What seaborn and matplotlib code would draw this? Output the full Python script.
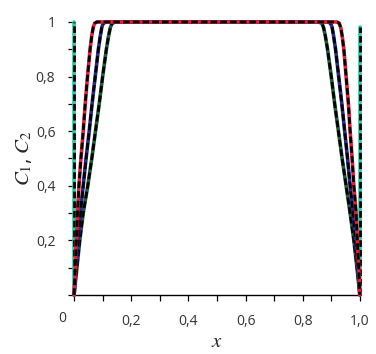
import numpy as np
import pandas as pd
import seaborn as sns
import matplotlib.pyplot as plt
from matplotlib.ticker import MultipleLocator, FixedLocator, FixedFormatter

# profiles: y levels and x positions on the rising (left) side
y_rise = [0, 0.1, 0.2, 0.3, 0.4, 0.5, 0.6, 0.7, 0.8, 0.9, 0.95, 0.98, 0.995, 1.0]
x_red = [0, 0.004, 0.008, 0.012, 0.017, 0.024, 0.032, 0.039, 0.047, 0.056, 0.062, 0.067, 0.072, 0.080]
x_blue = [0, 0.007, 0.014, 0.022, 0.032, 0.042, 0.053, 0.063, 0.074, 0.085, 0.092, 0.097, 0.102, 0.112]
x_green = [0, 0.010, 0.020, 0.032, 0.048, 0.062, 0.075, 0.088, 0.100, 0.113, 0.121, 0.127, 0.133, 0.145]

# falling (right) side, read from x = 1 going back
xr_red = [1.0, 0.996, 0.991, 0.987, 0.979, 0.973, 0.966, 0.960, 0.952, 0.944, 0.938, 0.933, 0.928, 0.920]
xr_blue = [1.0, 0.993, 0.985, 0.976, 0.966, 0.957, 0.947, 0.937, 0.926, 0.915, 0.908, 0.903, 0.898, 0.888]
xr_green = [1.0, 0.990, 0.979, 0.966, 0.952, 0.938, 0.925, 0.912, 0.900, 0.887, 0.879, 0.873, 0.867, 0.855]

# steepest profile: only the walls at x = 0 and x = 1 are visible
x_cyan_left = [0.0, 0.0]
y_cyan_left = [0.0, 1.0]
x_cyan_right = [1.0, 1.0]
y_cyan_right = [0.0, 0.98]

colors = {"cyan": "#2fc6a4", "green": "#1f5a3a", "blue": "#2a2a8c", "red": "#e0203a"}

rows = []
def add(name, part, xs, ys):
    for i, (a, b) in enumerate(zip(xs, ys)):
        rows.append({"curve": name, "part": part, "order": i, "x": a, "C": b})

add("cyan", 0, x_cyan_left, y_cyan_left)
add("cyan", 1, x_cyan_right, y_cyan_right)
for name, xl, xr in [("green", x_green, xr_green), ("blue", x_blue, xr_blue), ("red", x_red, xr_red)]:
    add(name, 0, list(xl) + list(xr[::-1]), list(y_rise) + list(y_rise[::-1]))
df = pd.DataFrame(rows)

sns.set_style("ticks")
plt.rcParams["mathtext.fontset"] = "stix"
plt.rcParams["font.family"] = ["Open Sans", "DejaVu Sans"]

fig = plt.figure(figsize=(3.76, 3.54), dpi=100)
ax = fig.add_axes([0.197, 0.167, 0.760, 0.771])

for (name, part), sub in df.groupby(["curve", "part"], sort=False):
    sns.lineplot(data=sub, x="x", y="C", sort=False, estimator=None, ax=ax,
                 color=colors[name], lw=2.6, clip_on=False, legend=False, zorder=3)
    sns.lineplot(data=sub, x="x", y="C", sort=False, estimator=None, ax=ax,
                 color="black", lw=2.0, clip_on=False, legend=False, zorder=3)
    ax.lines[-1].set_dashes([2.4, 1.1])

ax.set_xlim(0, 1)
ax.set_ylim(0, 1)
sns.despine(ax=ax)
for s in ["left", "bottom"]:
    ax.spines[s].set_color("black")
    ax.spines[s].set_linewidth(1.0)

ax.xaxis.set_major_locator(FixedLocator([0.2, 0.4, 0.6, 0.8, 1.0]))
ax.xaxis.set_major_formatter(FixedFormatter(["0,2", "0,4", "0,6", "0,8", "1,0"]))
ax.xaxis.set_minor_locator(MultipleLocator(0.1))
ax.yaxis.set_major_locator(FixedLocator([0.2, 0.4, 0.6, 0.8, 1.0]))
ax.yaxis.set_major_formatter(FixedFormatter(["0,2", "0,4", "0,6", "0,8", "1"]))
ax.yaxis.set_minor_locator(MultipleLocator(0.1))
ax.tick_params(axis="both", which="both", direction="out", length=4.5, width=0.9,
               color="black", labelsize=10, labelcolor="#333333")
ax.tick_params(axis="x", pad=9)
ax.tick_params(axis="y", pad=9)
ax.text(-0.04, -0.085, "0", transform=ax.transAxes, ha="center", va="center",
        fontsize=10, color="#333333")

ax.set_xlabel("$x$", fontsize=15, labelpad=2)
ax.set_ylabel("$C_1$, $C_2$", fontsize=15, labelpad=1)

fig.savefig("out.png", dpi=100)
